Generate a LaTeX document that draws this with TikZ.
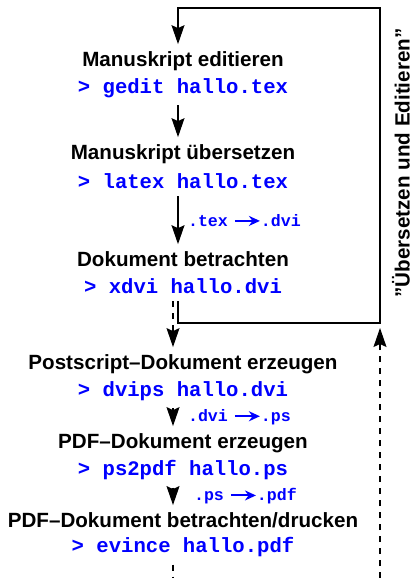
\documentclass[tikz,border=0pt]{standalone}
\usepackage{fontspec}
\setsansfont{Liberation Sans}
\setmonofont{Liberation Mono}
\usetikzlibrary{arrows.meta}

\newcommand\fromto[2]{#1\hspace{3pt}\tikz[baseline=-0.6ex]\draw[blue,line width=1pt,-{Stealth[length=5.5pt,width=5pt]}] (0pt,0pt) -- (12.5pt,0pt);#2}

\begin{document}
\begin{tikzpicture}[x=0.5pt,y=-0.5pt,semithick,
  stage/.style={font=\sffamily\bfseries\fontsize{10.3}{12}\selectfont},
  cmd/.style={text=blue,font=\ttfamily\bfseries\fontsize{10.3}{12}\selectfont},
  ext/.style={text=blue,font=\ttfamily\bfseries\fontsize{8.3}{9}\selectfont,right},
  flow/.style={-{Stealth[length=9.5pt,width=6.5pt,inset=1.5pt]}}]
\useasboundingbox (0,0) rectangle (412,578);
\coordinate (col) at (178,0);
\coordinate (dcol) at (173,0);
\coordinate (loopbr) at (380,323);
\coordinate (looptop) at (380,8);
\coordinate (rtip) at (380,328);
\coordinate (rbot) at (380,578);

\foreach \nm/\y/\head/\com in {edit/61/{Manuskript editieren}/{gedit hallo.tex},
    trans/154/{Manuskript übersetzen}/{latex hallo.tex},
    view/259/{Dokument betrachten}/{xdvi hallo.dvi},
    ps/364/{Postscript--Dokument erzeugen}/{dvips hallo.dvi},
    pdf/443/{PDF--Dokument erzeugen}/{ps2pdf hallo.ps},
    show/520/{PDF--Dokument betrachten/drucken}/{evince hallo.pdf}} {
  \node[stage] (\nm) at (183,\y) {\head};
  \node[cmd] (\nm-cmd) at (183,\y+27.5) {> \com};
}

\node[stage,rotate=90] (loopname) at (401,163) {\symbol{34}Übersetzen und Editieren\symbol{34}};

% Zyklus: editieren -> uebersetzen -> betrachten
\draw[flow] (edit-cmd.south -| col) -- (trans.north -| col);
\draw[flow] (trans-cmd.south -| col) -- node[ext,xshift=1.5pt] {\fromto{.tex}{.dvi}} (view.north -| col);
\draw[flow] (view-cmd.south -| col) |- (loopbr) -- (looptop) -| (edit.north -| col);

% Ausgabe
\draw[dashed,flow] (view-cmd.south -| dcol) -- (ps.north -| dcol);
\draw[dashed,flow] (ps-cmd.south -| dcol) -- node[ext,xshift=4pt] {\fromto{.dvi}{.ps}} (pdf.north -| dcol);
\draw[dashed,flow] (pdf-cmd.south -| dcol) -- node[ext,xshift=7pt] {\fromto{.ps}{.pdf}} (show.north -| dcol);
\draw[dashed] (show-cmd.south -| dcol) -- (dcol |- rbot);
\draw[dashed,flow] (rbot) -- (rtip);
\end{tikzpicture}
\end{document}
